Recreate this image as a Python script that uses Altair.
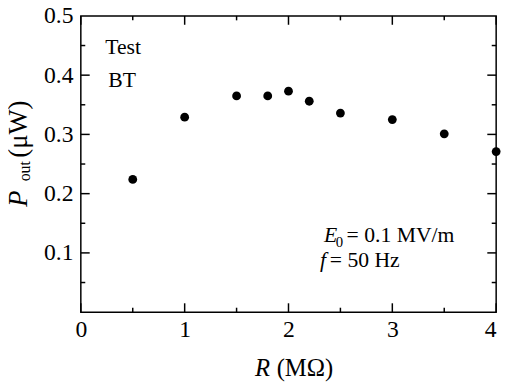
import altair as alt
import pandas as pd

# ---- data ----
R_vals = [0.5, 1.0, 1.5, 1.8, 2.0, 2.2, 2.5, 3.0, 3.5, 4.0]
P_vals = [0.224, 0.329, 0.365, 0.365, 0.373, 0.356, 0.336, 0.325, 0.301, 0.271]

x_major = [0, 1, 2, 3, 4]
x_minor = [0.5, 1.5, 2.5, 3.5]
y_major = [0.1, 0.2, 0.3, 0.4]
y_minor = [0.05, 0.15, 0.25, 0.35, 0.45]
y_labels = [0.1, 0.2, 0.3, 0.4, 0.5]

FONT = "Liberation Serif"
W, H = 422, 301
MAJ, MIN = 9, 4.5

df = pd.DataFrame({"R": R_vals, "P": P_vals})
xs = alt.Scale(domain=[0, 4], nice=False, zero=False)
ys = alt.Scale(domain=[0, 0.5], nice=False, zero=False)

points = alt.Chart(df).mark_point(filled=True, size=80, color="black", opacity=1).encode(
    x=alt.X("R:Q", scale=xs, title=None, axis=alt.Axis(
        values=x_major, format="d", title=None, ticks=False, domain=False, grid=False,
        labelFont=FONT, labelFontSize=24, labelColor="black", labelPadding=6,
        labelOffset={"condition": {"test": "datum.value === 0", "value": -6}, "value": 0},
    )),
    y=alt.Y("P:Q", scale=ys, title=None, axis=alt.Axis(
        values=y_labels, format=".1f", title=None, ticks=False, domain=False,
        grid=False, labelFont=FONT, labelFontSize=24, labelColor="black", labelPadding=8,
    )),
)


def xticks(vals, length):
    d = pd.DataFrame({"v": vals})
    bot = alt.Chart(d).mark_rule(color="black", strokeWidth=1.5).encode(
        x=alt.X("v:Q", scale=xs, title=None), y=alt.value(H), y2=alt.value(H - length))
    top = alt.Chart(d).mark_rule(color="black", strokeWidth=1.5).encode(
        x=alt.X("v:Q", scale=xs, title=None), y=alt.value(0), y2=alt.value(length))
    return [bot, top]


def yticks(vals, length):
    d = pd.DataFrame({"v": vals})
    left = alt.Chart(d).mark_rule(color="black", strokeWidth=1.5).encode(
        y=alt.Y("v:Q", scale=ys, title=None), x=alt.value(0), x2=alt.value(length))
    right = alt.Chart(d).mark_rule(color="black", strokeWidth=1.5).encode(
        y=alt.Y("v:Q", scale=ys, title=None), x=alt.value(W), x2=alt.value(W - length))
    return [left, right]


def label(txt, x, y, size=22, style="normal", align="left", angle=0):
    return alt.Chart(pd.DataFrame({"t": [txt]})).mark_text(
        font=FONT, fontSize=size, fontStyle=style, align=align, baseline="alphabetic",
        angle=angle, color="black",
    ).encode(x=alt.value(x), y=alt.value(y), text="t:N")


texts = [
    label("Test", 43, 39, align="center"),
    label("BT", 42, 72, align="center"),
    label("E", 247, 230, style="italic"),
    label("0", 259, 235, size=15),
    label("= 0.1 MV/m", 270, 230),
    label("f", 243, 255, style="italic"),
    label("= 50 Hz", 253, 255),
    # x title
    label("R", 177, 366, size=25, style="italic"),
    label("(MΩ)", 199, 366, size=25),
    # y title (rotated)
    label("P", -55, 194, size=27, style="italic", angle=270),
    label("out", -52, 168, size=16, angle=270),
    label("(μW)", -55, 144, size=27, angle=270),
]

layers = [points] + xticks(x_major, MAJ) + xticks(x_minor, MIN) + yticks(y_major, MAJ) + yticks(y_minor, MIN) + texts

chart = alt.layer(*layers).properties(
    width=W, height=H,
    background="white",
    autosize=alt.AutoSizeParams(type="none"),
    padding={"left": 74, "top": 5, "right": 10, "bottom": 72},
).configure_view(stroke="black", strokeWidth=1.5).configure_axis(
    labelFont=FONT, labelFontSize=24, labelColor="black"
).configure_text(font=FONT)

chart.save("out.html", embed_options={"renderer": "svg", "actions": False})
